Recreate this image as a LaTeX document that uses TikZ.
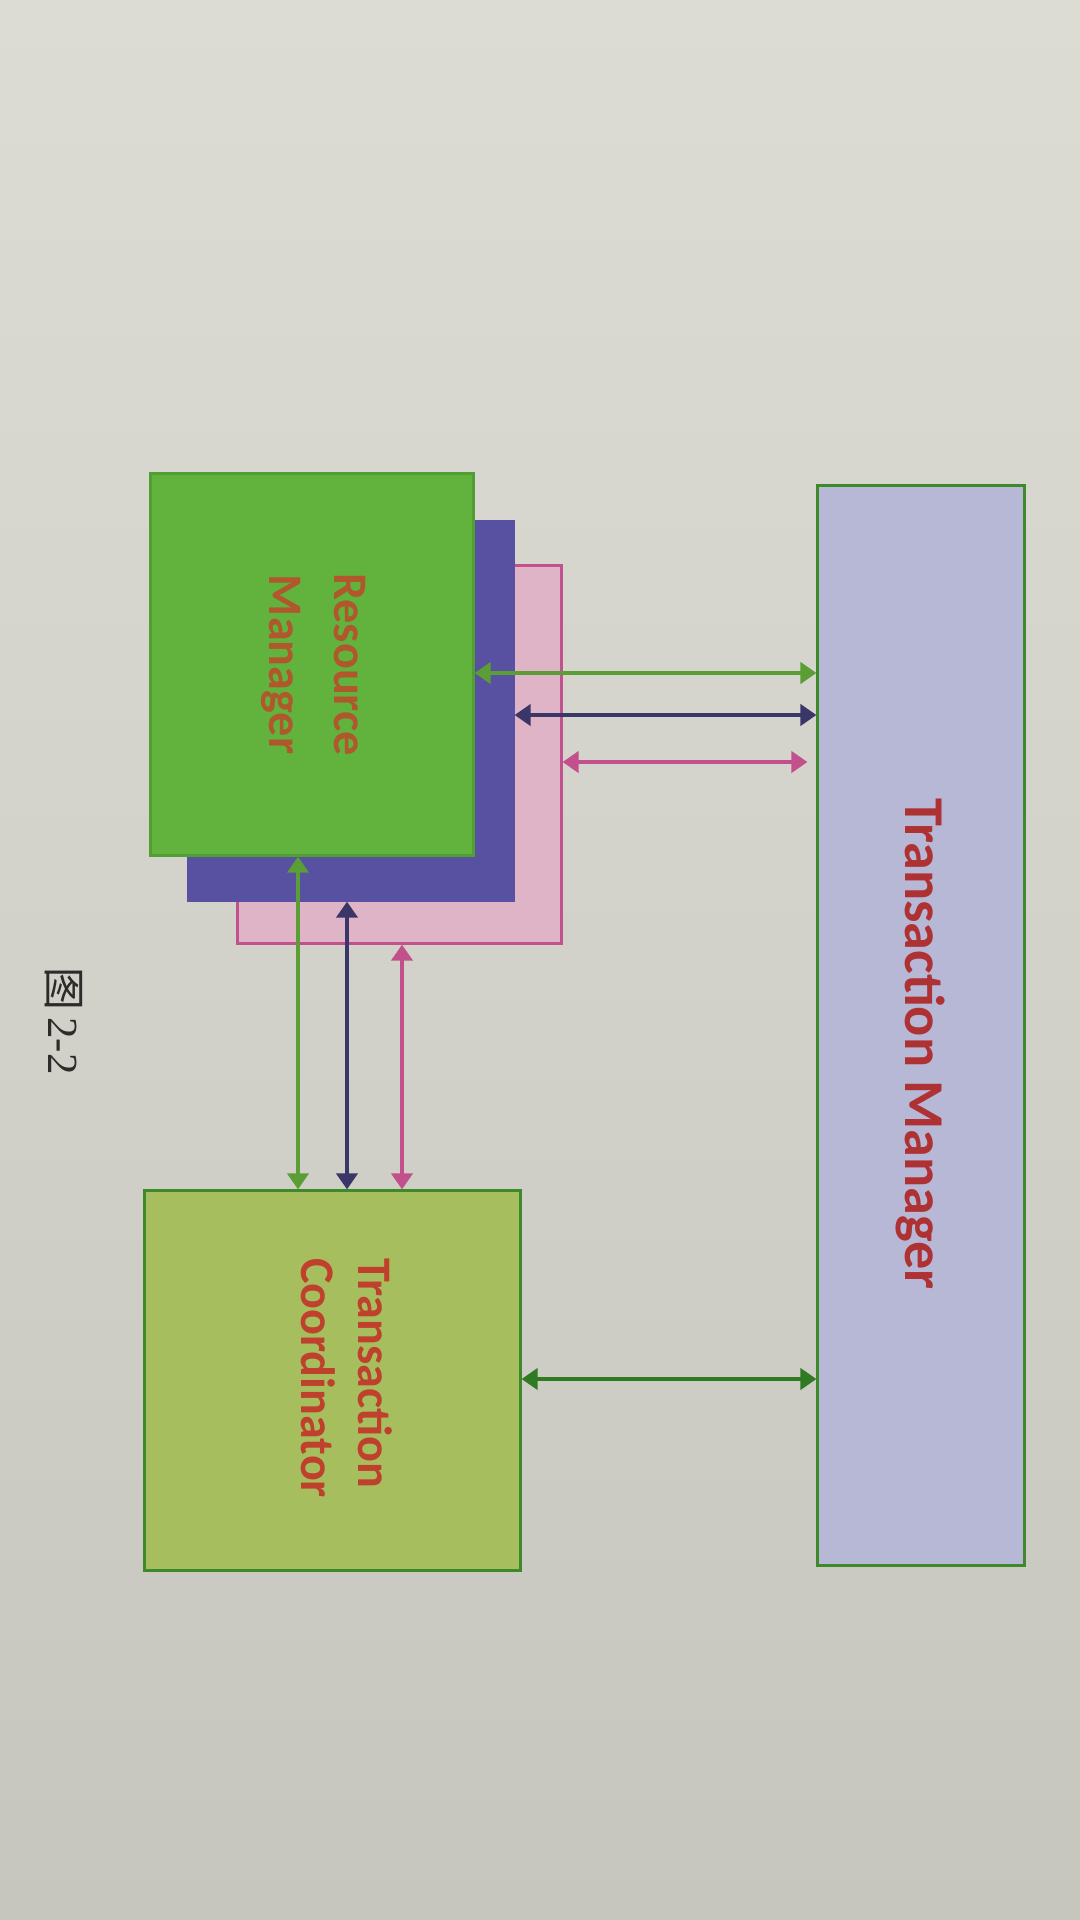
\documentclass[tikz,border=0pt]{standalone}
\usepackage{fontspec}
\setmainfont{Carlito}
\newfontfamily\cjkfont{Noto Sans CJK SC}
\newfontfamily\capfont{Liberation Serif}
\usetikzlibrary{arrows.meta}

\definecolor{pagetop}{HTML}{DDDCD4}
\definecolor{pagemid}{HTML}{D2D1CA}
\definecolor{pagebot}{HTML}{C6C5BE}
\definecolor{rmgreen}{HTML}{62B23E}
\definecolor{rmgreenline}{HTML}{519F33}
\definecolor{rmblue}{HTML}{5850A0}
\definecolor{rmpink}{HTML}{E0B4C7}
\definecolor{rmpinkline}{HTML}{C2528E}
\definecolor{tcfill}{HTML}{A7BE5E}
\definecolor{boxline}{HTML}{3E8A2A}
\definecolor{tmfill}{HTML}{B6B8D6}
\definecolor{arrgreen}{HTML}{5A9E35}
\definecolor{arrblue}{HTML}{3B3668}
\definecolor{arrpink}{HTML}{C2508C}
\definecolor{arrdark}{HTML}{2F7A22}
\definecolor{rmtext}{HTML}{B0582C}
\definecolor{tctext}{HTML}{BF402C}
\definecolor{tmtext}{HTML}{AE3234}
\definecolor{captext}{HTML}{2C2C2A}

\tikzset{
  box/.style={rectangle, inner sep=0pt, line width=0.03cm},
  link/.style={line width=0.04cm, {Triangle[length=0.16cm,width=0.21cm]}-{Triangle[length=0.16cm,width=0.21cm]}},
  label text/.style={rotate=-90, font=\bfseries, align=center, inner sep=0pt},
}

\begin{document}
\begin{tikzpicture}[x=0.01cm, y=-0.01cm]
  % page
  \useasboundingbox (0,0) rectangle (1080,1920);
  \shade[top color=pagetop, bottom color=pagebot, middle color=pagemid] (0,0) rectangle (1080,1920);

  % resource manager stack: back to front
  \node[box, draw=rmpinkline, fill=rmpink, minimum width=3.23cm, minimum height=3.77cm] (rm3) at (399.5,754.5) {};
  \node[box, draw=rmblue, fill=rmblue, minimum width=3.24cm, minimum height=3.78cm] (rm2) at (351,711) {};
  \node[box, draw=rmgreenline, fill=rmgreen, minimum width=3.22cm, minimum height=3.81cm] (rm) at (312,664.5) {};

  % coordinator and manager
  \node[box, draw=boxline, fill=tcfill, minimum width=3.75cm, minimum height=3.79cm] (tc) at (332.5,1380.5) {};
  \node[box, draw=boxline, fill=tmfill, minimum width=2.06cm, minimum height=10.79cm] (tm) at (921,1025.5) {};

  % rows and columns of the connectors
  \coordinate (r1) at (0,673);
  \coordinate (r2) at (0,715);
  \coordinate (r3) at (0,762);
  \coordinate (r4) at (0,1379);
  \coordinate (c1) at (298,0);
  \coordinate (c2) at (347,0);
  \coordinate (c3) at (402,0);

  % resource managers <-> transaction manager
  \draw[link, arrgreen] (rm.east |- r1) -- (tm.west |- r1);
  \draw[link, arrblue] (rm2.east |- r2) -- (tm.west |- r2);
  \draw[link, arrpink, shorten >=0.09cm] (rm3.east |- r3) -- (tm.west |- r3);

  % resource managers <-> transaction coordinator
  \draw[link, arrgreen] (c1 |- rm.south) -- (c1 |- tc.north);
  \draw[link, arrblue] (c2 |- rm2.south) -- (c2 |- tc.north);
  \draw[link, arrpink] (c3 |- rm3.south) -- (c3 |- tc.north);

  % coordinator <-> manager
  \draw[link, arrdark] (tc.east |- r4) -- (tm.west |- r4);

  % labels
  \node[label text, text=rmtext, font=\bfseries\fontsize{13.7}{18.5}\selectfont] (rmlabel) at (314,664.5) {Resource\\Manager};
  \node[label text, text=tctext, align=left, font=\bfseries\fontsize{13.7}{16.2}\selectfont] (tclabel) at (347,1378) {Transaction\\Coordinator};
  \node[label text, text=tmtext, font=\bfseries\fontsize{16}{19}\selectfont] (tmlabel) at (921,1044) {Transaction Manager};

  % figure caption
  \node[rotate=-90, text=captext, inner sep=0pt, font=\fontsize{12.2}{14}\selectfont] (caption) at (64,1021) {{\cjkfont 图}\,{\capfont 2-2}};
\end{tikzpicture}
\end{document}
